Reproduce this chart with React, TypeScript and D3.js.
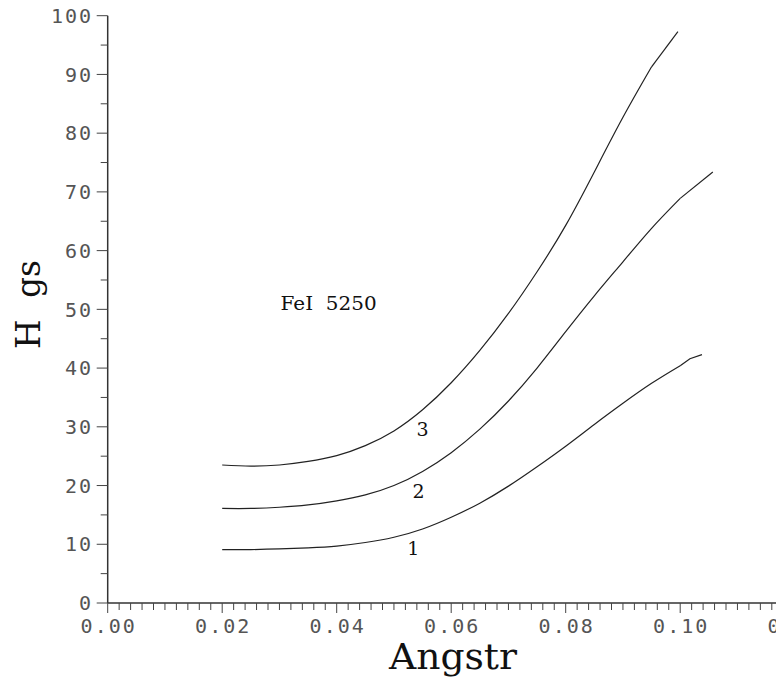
import React from 'react';
import * as d3 from 'd3';

// curves (x in Angstrom, y in gauss)
const xCurve = [0.020, 0.025, 0.030, 0.035, 0.040, 0.045, 0.050, 0.055, 0.060, 0.065, 0.070, 0.075, 0.080, 0.085, 0.090, 0.095, 0.100];
const curve1 = [9.1, 9.1, 9.2, 9.4, 9.7, 10.3, 11.2, 12.6, 14.6, 17.0, 19.9, 23.2, 26.7, 30.4, 34.0, 37.4, 40.4];
const curve1Tail = [[0.1017, 41.6], [0.1038, 42.3]];
const curve2 = [16.1, 16.1, 16.3, 16.7, 17.4, 18.4, 20.0, 22.4, 25.6, 29.6, 34.4, 40.0, 46.2, 52.3, 58.1, 63.8, 68.9];
const curve2Tail = [[0.1057, 73.4]];
const curve3 = [23.5, 23.3, 23.5, 24.1, 25.1, 26.8, 29.3, 32.9, 37.5, 43.0, 49.3, 56.4, 64.3, 73.4, 82.7, 91.3];
const curve3Tail = [[0.0996, 97.3]];

const curveLabels = ['1', '2', '3'];
const curveLabelX = [0.0534, 0.0543, 0.0550];
const curveLabelY = [8.2, 17.8, 28.4];

const noteText = 'FeI  5250';
const notePos = [0.0302, 49.9];

const xMajor = [0, 0.02, 0.04, 0.06, 0.08, 0.10, 0.12];
const xTickLabels = ['0.00', '0.02', '0.04', '0.06', '0.08', '0.10', '0.12'];
const yMajor = [0, 10, 20, 30, 40, 50, 60, 70, 80, 90, 100];

const W = 776;
const H = 681;

const App = () => {
  const x = d3.scaleLinear().domain([0, 0.12]).range([107.7, 794.7]);
  const y = d3.scaleLinear().domain([0, 100]).range([603, 15.7]);

  const series = [
    { main: curve1.map((v, i) => [xCurve[i], v]), tail: curve1Tail },
    { main: curve2.map((v, i) => [xCurve[i], v]), tail: curve2Tail },
    { main: curve3.map((v, i) => [xCurve[i], v]), tail: curve3Tail },
  ];

  const smooth = d3.line<number[]>()
    .x(d => x(d[0]))
    .y(d => y(d[1]))
    .curve(d3.curveNatural);
  const straight = d3.line<number[]>()
    .x(d => x(d[0]))
    .y(d => y(d[1]));

  const xMinor = d3.range(0, 61).map(i => i * 0.002);
  const yMinor = d3.range(0, 21).map(i => i * 5);

  const tickFont = "'DejaVu Sans Mono', monospace";
  const serif = "'DejaVu Serif', serif";

  return (
    <svg width={W} height={H} style={{ position: 'absolute', left: 0, top: 0, background: '#fff' }}>
      {/* axes lines */}
      <line x1={x(0)} x2={W} y1={y(0)} y2={y(0)} stroke="#333" strokeWidth={1.5} />
      <line x1={x(0)} x2={x(0)} y1={y(0)} y2={y(100)} stroke="#333" strokeWidth={1.5} />

      {/* x ticks */}
      {xMinor.map((v, i) => (
        <line key={'xm' + i} x1={x(v)} x2={x(v)} y1={y(0)} y2={y(0) + (i % 10 === 0 ? 10 : 7)} stroke="#444" strokeWidth={1} />
      ))}
      {xMajor.map((v, i) => (
        <text key={'xl' + i} x={x(v) + 1} y={633} textAnchor="middle" fontFamily={tickFont} fontSize={20}
          letterSpacing={2} fill="#555">{xTickLabels[i]}</text>
      ))}

      {/* y ticks */}
      {yMinor.map((v, i) => (
        <line key={'ym' + i} x1={x(0) - (i % 2 === 0 ? 11 : 7)} x2={x(0)} y1={y(v)} y2={y(v)} stroke="#444" strokeWidth={1} />
      ))}
      {yMajor.map((v, i) => (
        <text key={'yl' + i} x={93} y={y(v)} dy="0.36em" textAnchor="end" fontFamily={tickFont} fontSize={20}
          letterSpacing={2} fill="#555">{String(v)}</text>
      ))}

      {/* curves */}
      {series.map((s, i) => (
        <g key={'c' + i} fill="none" stroke="#222" strokeWidth={1.2}>
          <path d={smooth(s.main) || ''} />
          <path d={straight([s.main[s.main.length - 1], ...s.tail]) || ''} />
        </g>
      ))}

      {curveLabels.map((t, i) => (
        <text key={'cl' + i} x={x(curveLabelX[i])} y={y(curveLabelY[i])} textAnchor="middle"
          fontFamily={serif} fontSize={19} fill="#111">{t}</text>
      ))}

      <text x={x(notePos[0])} y={y(notePos[1])} fontFamily={serif} fontSize={18} fill="#111"
        style={{ whiteSpace: 'pre' }} textLength={96} lengthAdjust="spacingAndGlyphs">{noteText}</text>

      {/* axis titles */}
      <text x={389} y={669} fontFamily={serif} fontSize={35} fill="#111"
        textLength={128} lengthAdjust="spacingAndGlyphs">Angstr</text>
      <g transform="translate(40,0) rotate(-90)">
        <text x={-349} y={0} fontFamily={serif} fontSize={34} fill="#111">H</text>
        <text x={-298} y={0} fontFamily={serif} fontSize={34} fill="#111"
          textLength={38} lengthAdjust="spacingAndGlyphs">gs</text>
      </g>
    </svg>
  );
};

export default App;
